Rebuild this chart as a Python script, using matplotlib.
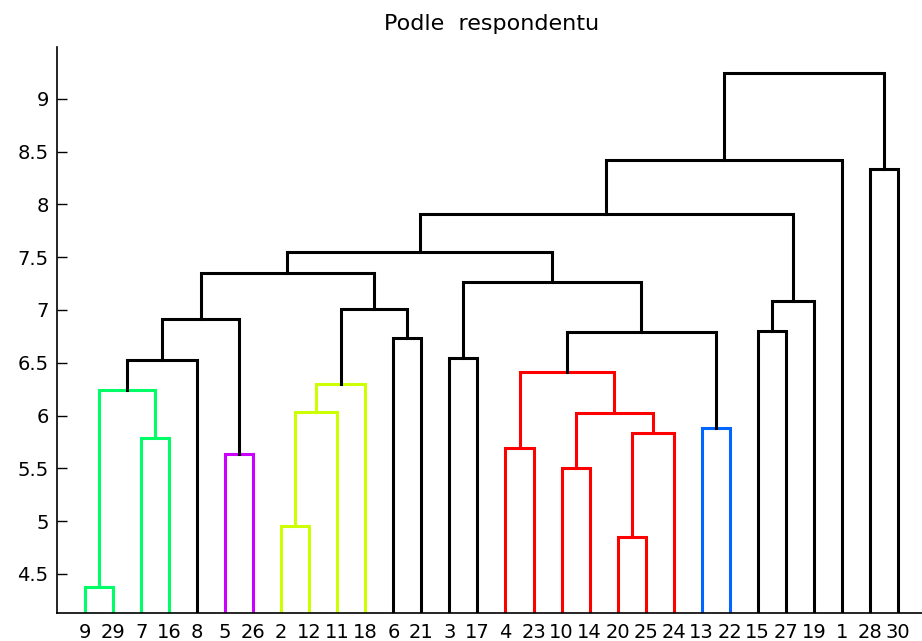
import matplotlib
matplotlib.use("Agg")
import matplotlib.pyplot as plt

# leaf labels in the order they are drawn
leaf_labels = ['9', '29', '7', '16', '8', '5', '26', '2', '12', '11', '18', '6', '21',
               '3', '17', '4', '23', '10', '14', '20', '25', '24', '13', '22',
               '15', '27', '19', '1', '28', '30']

# merges: node ids 0..29 are leaves, merge k creates node 30+k
merge_left = [0, 2, 30, 32, 5, 33, 7, 36, 37, 11, 38, 35, 13, 15, 17, 19, 45, 44, 43,
              22, 48, 42, 41, 24, 53, 52, 55, 28, 56]
merge_right = [1, 3, 31, 4, 6, 34, 8, 9, 10, 12, 39, 40, 14, 16, 18, 20, 21, 46, 47,
               23, 49, 50, 51, 25, 26, 54, 27, 29, 57]
merge_height = [4.38, 5.79, 6.24, 6.53, 5.64, 6.91, 4.95, 6.03, 6.30, 6.73, 7.01, 7.35,
                6.54, 5.69, 5.50, 4.85, 5.83, 6.02, 6.41, 5.88, 6.79, 7.26, 7.55,
                6.80, 7.08, 7.91, 8.42, 8.33, 9.24]
merge_color = ['g', 'g', 'g', 'k', 'm', 'k', 'y', 'y', 'y', 'k', 'k', 'k',
               'k', 'r', 'r', 'r', 'r', 'r', 'r', 'b', 'k', 'k', 'k',
               'k', 'k', 'k', 'k', 'k', 'k']

colors = {'g': (0, 1, 0.4), 'm': (0.8, 0, 1), 'y': (0.8, 1, 0),
          'r': (1, 0, 0), 'b': (0, 0.4, 1), 'k': 'black'}

n = len(leaf_labels)
xs = [i + 1 for i in range(n)]
hs = [0.0] * n

fig = plt.figure(figsize=(9.22, 6.41), dpi=100)
ax = fig.add_axes([0.0618, 0.0437, 0.9425, 0.883])

for a, b, h, c in zip(merge_left, merge_right, merge_height, merge_color):
    ax.plot([xs[a], xs[a], xs[b], xs[b]], [hs[a], h, h, hs[b]],
            color=colors[c], lw=2.2, solid_joinstyle='miter')
    xs.append((xs[a] + xs[b]) / 2)
    hs.append(h)

ax.set_xlim(0, 31)
ax.set_ylim(4.13, 9.49)
ax.set_xticks(range(1, n + 1))
ax.set_xticklabels(leaf_labels)
ax.set_yticks([4.5, 5, 5.5, 6, 6.5, 7, 7.5, 8, 8.5, 9])
ax.set_yticklabels(['4.5', '5', '5.5', '6', '6.5', '7', '7.5', '8', '8.5', '9'])
ax.tick_params(axis='y', direction='in', length=7, width=1, labelsize=14, pad=6)
ax.tick_params(axis='x', direction='in', length=0, labelsize=14, pad=7)
ax.spines['top'].set_visible(False)
ax.spines['right'].set_visible(False)
ax.spines['left'].set_linewidth(1.2)
ax.spines['bottom'].set_linewidth(1.2)
ax.set_title('Podle  respondentu', fontsize=16, pad=12)

plt.savefig('out.png', dpi=100)
